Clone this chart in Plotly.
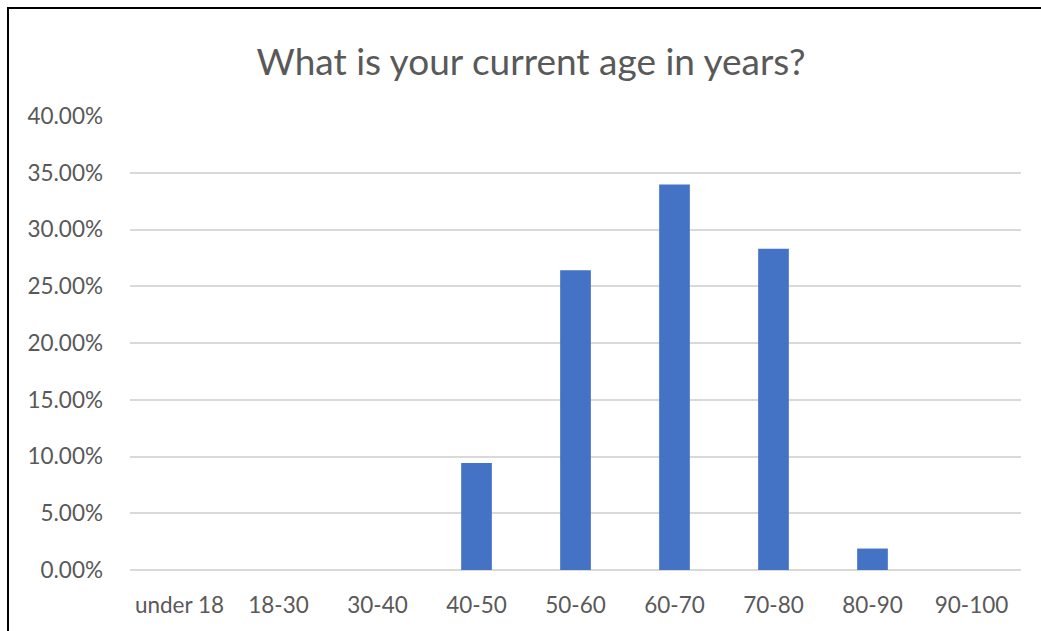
import plotly.graph_objects as go

categories = ["under 18", "18-30", "30-40", "40-50", "50-60", "60-70", "70-80", "80-90", "90-100"]
percent_values = [0.0, 0.0, 0.0, 9.43, 26.42, 33.96, 28.30, 1.89, 0.0]
y_ticks = [0, 5, 10, 15, 20, 25, 30, 35, 40]
y_tick_labels = [f"{v:.2f}%" for v in y_ticks]

W, H = 1041, 631
L, R, T, B = 130, 20, 116, 61
pw, ph = W - L - R, H - T - B

def px_x(x):
    return (x - L) / pw

def px_y(y):
    return (H - B - y) / ph

fig = go.Figure()
fig.add_trace(go.Bar(x=categories, y=percent_values, marker=dict(color="#4472C4", line=dict(width=0)),
                     width=0.31, hoverinfo="x+y"))

fig.update_layout(
    width=W, height=H,
    margin=dict(l=L, r=R, t=T, b=B, pad=0),
    paper_bgcolor="white", plot_bgcolor="white",
    showlegend=False,
    font=dict(family="Lato, Open Sans, sans-serif", color="#595959"),
    title=dict(text="What is your current age in years?", x=531 / W, xanchor="center",
               y=1 - 62 / H, yanchor="middle", yref="container", xref="container",
               font=dict(size=37, color="#595959", family="Lato, Open Sans, sans-serif")),
    xaxis=dict(showgrid=False, showline=False, ticks="", tickfont=dict(size=22.5, color="#595959"),
               ticklabelstandoff=19, fixedrange=True),
    yaxis=dict(range=[0, 40], tickvals=y_ticks, ticktext=y_tick_labels, showgrid=True,
               gridcolor="#D9D9D9", gridwidth=1.5, zeroline=True, zerolinecolor="#D9D9D9", zerolinewidth=1.5,
               showline=False, ticks="", tickfont=dict(size=22.5, color="#595959"), ticklabelstandoff=26,
               fixedrange=True),
    shapes=[
        dict(type="line", xref="paper", yref="paper", x0=px_x(7), x1=px_x(1045), y0=px_y(8), y1=px_y(8),
             line=dict(color="black", width=2)),
        dict(type="line", xref="paper", yref="paper", x0=px_x(8), x1=px_x(8), y0=px_y(7), y1=px_y(640),
             line=dict(color="black", width=2)),
    ],
)

fig.write_html("out.html", config={"displayModeBar": False},
               post_script="document.body.style.margin='0';document.body.style.overflow='hidden';")
